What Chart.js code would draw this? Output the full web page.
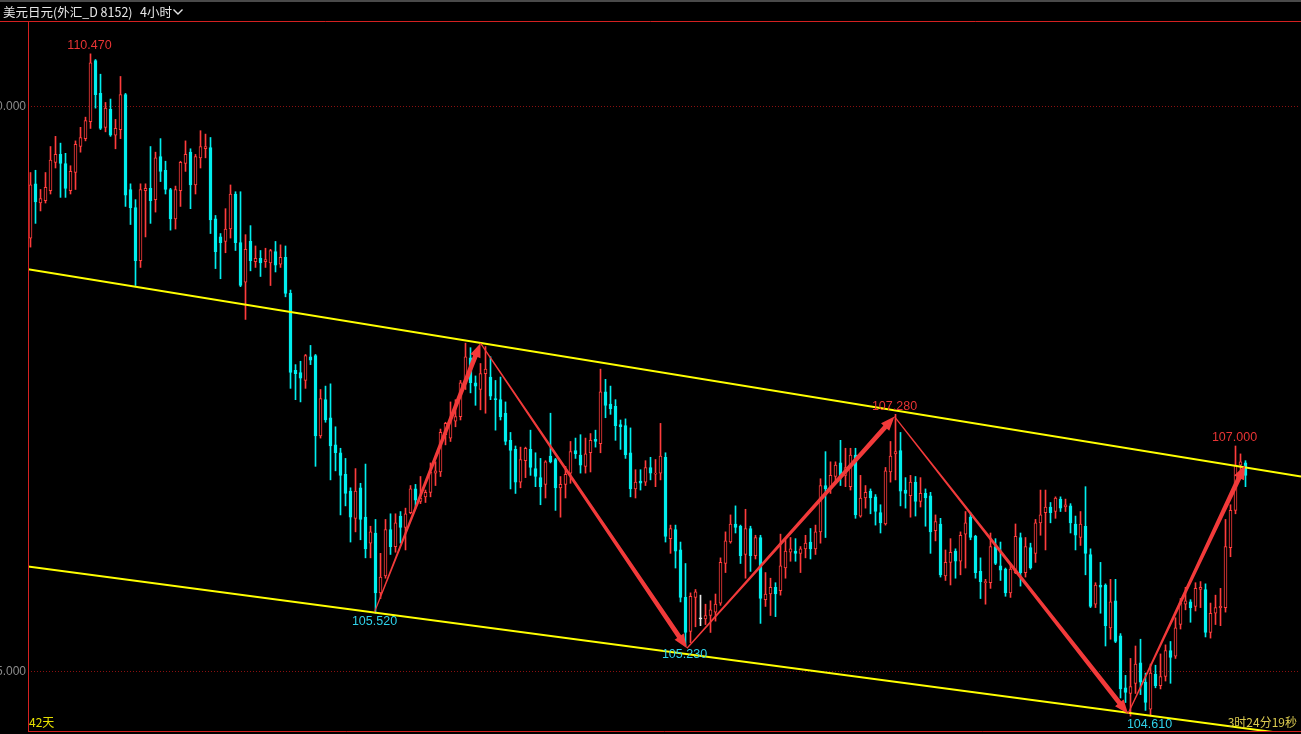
<!DOCTYPE html>
<html>
<head>
<meta charset="utf-8">
<title>美元日元 4小时</title>
<script src="https://cdn.jsdelivr.net/npm/chart.js@4.4.1/dist/chart.umd.min.js"></script>
<style>
    html, body { margin: 0; padding: 0; background: #000; overflow: hidden; }
    canvas { display: block; }
</style>
</head>
<body>
<canvas id="kline" width="1301" height="734"></canvas>
<script>
// --- Data (4h candles) ---
const openV = [
    108.84, 109.32, 109.15, 109.17, 109.26, 109.51, 109.58, 109.50, 109.26, 109.42,
    109.65, 109.72, 109.87, 110.41, 110.12, 109.82, 109.98, 109.75, 109.80, 110.11,
    109.27, 109.11, 108.64, 109.26, 109.28, 109.18, 109.56, 109.44, 109.27, 109.01,
    109.26, 109.50, 109.60, 109.31, 109.55, 109.63, 109.64, 109.01, 108.85, 108.81,
    108.92, 109.23, 108.80, 108.45, 108.81, 108.63, 108.66, 108.63, 108.62, 108.72,
    108.61, 108.67, 108.35, 107.67, 107.65, 107.58, 107.79, 107.80, 107.09, 107.41,
    107.25, 107.01, 106.94, 106.75, 106.60, 106.36, 106.63, 106.37, 106.14, 106.23,
    105.70, 105.85, 106.26, 106.11, 106.38, 106.28, 106.41, 106.62, 106.51, 106.55,
    106.59, 106.76, 106.77, 107.10, 107.07, 107.22, 107.26, 107.55, 107.78, 107.56,
    107.50, 107.64, 107.61, 107.42, 107.41, 107.29, 107.05, 106.97, 106.68, 106.87,
    106.97, 106.80, 106.72, 106.66, 106.91, 106.88, 106.63, 106.66, 106.76, 106.96,
    106.92, 106.82, 106.94, 107.06, 107.02, 107.48, 107.37, 107.35, 107.19, 107.18,
    106.94, 106.62, 106.69, 106.68, 106.81, 106.75, 106.76, 106.90, 106.18, 106.26,
    106.08, 105.66, 105.36, 105.66, 105.47, 105.47, 105.50, 105.53, 105.61, 105.96,
    106.15, 106.31, 106.29, 106.04, 106.27, 106.03, 106.19, 105.64, 105.69, 105.75,
    105.72, 105.92, 106.06, 106.07, 106.05, 106.09, 106.15, 106.09, 106.24, 106.65,
    106.62, 106.73, 106.85, 106.74, 106.64, 106.92, 106.38, 106.54, 106.60, 106.55,
    106.41, 106.31, 106.77, 106.93, 106.96, 106.61, 106.56, 106.68, 106.51, 106.58,
    106.56, 106.25, 106.31, 105.85, 105.97, 106.07, 105.98, 106.22, 106.37, 106.20,
    105.89, 105.79, 105.79, 106.11, 105.94, 105.91, 105.70, 105.88, 106.19, 105.88,
    106.10, 106.05, 106.32, 106.41, 106.46, 106.42, 106.53, 106.46, 106.47, 106.31,
    106.19, 106.29, 106.04, 105.60, 105.77, 105.77, 105.39, 105.63, 105.32, 104.86,
    104.81, 104.90, 105.08, 104.91, 104.67, 104.98, 104.88, 104.96, 105.19, 105.14,
    105.42, 105.60, 105.62, 105.58, 105.73, 105.73, 105.35, 105.52, 105.57, 105.57,
    106.10, 106.43, 106.83, 106.85
];
const highV = [
    109.42, 109.44, 109.27, 109.42, 109.65, 109.74, 109.68, 109.59, 109.48, 109.70,
    109.82, 109.91, 110.47, 110.42, 110.29, 110.04, 110.07, 109.89, 110.27, 110.12,
    109.32, 109.18, 109.32, 109.32, 109.65, 109.60, 109.72, 109.52, 109.28, 109.30,
    109.52, 109.70, 109.63, 109.58, 109.79, 109.76, 109.73, 109.04, 108.88, 109.10,
    109.31, 109.25, 109.25, 108.87, 108.95, 108.77, 108.73, 108.75, 108.74, 108.81,
    108.78, 108.77, 108.38, 107.72, 107.75, 107.81, 107.89, 107.81, 107.50, 107.53,
    107.55, 107.17, 106.98, 106.89, 106.63, 106.80, 106.67, 106.84, 106.29, 106.35,
    106.05, 106.35, 106.40, 106.40, 106.42, 106.45, 106.65, 106.66, 106.73, 106.61,
    106.85, 106.86, 107.15, 107.21, 107.39, 107.41, 107.58, 107.91, 107.87, 107.62,
    107.73, 107.88, 107.79, 107.58, 107.61, 107.39, 107.12, 107.00, 106.99, 106.99,
    107.14, 106.94, 106.89, 106.87, 107.29, 106.89, 106.73, 106.82, 107.04, 107.07,
    107.10, 107.07, 107.11, 107.14, 107.68, 107.59, 107.53, 107.41, 107.23, 107.24,
    107.16, 106.79, 106.79, 106.87, 106.90, 106.88, 107.20, 106.94, 106.30, 106.30,
    106.15, 105.96, 105.70, 105.73, 105.68, 105.60, 105.63, 105.69, 106.01, 106.24,
    106.39, 106.47, 106.30, 106.44, 106.29, 106.21, 106.21, 105.88, 105.83, 105.79,
    106.22, 106.17, 106.19, 106.18, 106.11, 106.21, 106.27, 106.30, 106.71, 106.95,
    106.86, 106.86, 107.05, 106.98, 106.98, 106.98, 106.74, 106.65, 106.62, 106.57,
    106.48, 106.81, 107.04, 107.28, 107.12, 106.72, 106.74, 106.73, 106.72, 106.62,
    106.59, 106.39, 106.36, 106.08, 106.18, 106.09, 106.24, 106.42, 106.41, 106.21,
    106.01, 105.82, 106.23, 106.18, 106.15, 105.92, 105.95, 106.31, 106.23, 106.19,
    106.14, 106.35, 106.61, 106.61, 106.50, 106.55, 106.55, 106.53, 106.49, 106.38,
    106.42, 106.64, 106.09, 105.79, 105.97, 105.78, 105.82, 105.82, 105.34, 104.97,
    105.12, 105.23, 105.29, 104.99, 105.07, 105.06, 105.16, 105.24, 105.27, 105.48,
    105.65, 105.75, 105.64, 105.79, 105.80, 105.78, 105.61, 105.68, 105.74, 106.35,
    106.48, 107.00, 106.93, 106.87
];
const lowV = [
    108.76, 108.97, 109.08, 109.15, 109.23, 109.46, 109.20, 109.20, 109.23, 109.27,
    109.60, 109.70, 109.81, 109.99, 109.80, 109.78, 109.74, 109.63, 109.72, 109.12,
    108.96, 108.42, 108.58, 108.85, 108.97, 109.07, 109.34, 109.23, 108.91, 108.92,
    109.12, 109.43, 109.10, 109.23, 109.46, 109.55, 108.88, 108.57, 108.48, 108.71,
    108.84, 108.73, 108.41, 108.12, 108.55, 108.58, 108.50, 108.58, 108.42, 108.54,
    108.58, 108.32, 107.51, 107.41, 107.39, 107.51, 107.72, 106.82, 107.07, 107.21,
    106.70, 106.78, 106.39, 106.47, 106.15, 106.24, 106.17, 106.01, 106.01, 105.52,
    105.65, 105.83, 106.04, 106.06, 106.14, 106.08, 106.40, 106.45, 106.49, 106.50,
    106.55, 106.65, 106.73, 107.01, 107.04, 107.17, 107.23, 107.50, 107.47, 107.36,
    107.32, 107.29, 107.41, 107.14, 107.23, 107.01, 106.62, 106.58, 106.63, 106.72,
    106.74, 106.64, 106.48, 106.54, 106.85, 106.43, 106.37, 106.54, 106.67, 106.89,
    106.76, 106.76, 106.77, 106.99, 106.94, 107.25, 107.28, 107.05, 106.97, 106.89,
    106.55, 106.54, 106.61, 106.65, 106.70, 106.64, 106.70, 106.15, 106.05, 105.92,
    105.62, 105.23, 105.26, 105.40, 105.41, 105.42, 105.35, 105.45, 105.59, 105.88,
    106.14, 106.23, 105.96, 105.83, 105.89, 106.00, 105.43, 105.58, 105.50, 105.49,
    105.68, 105.83, 105.98, 105.98, 105.88, 106.01, 106.00, 106.04, 106.14, 106.19,
    106.58, 106.68, 106.65, 106.64, 106.61, 106.36, 106.37, 106.45, 106.40, 106.30,
    106.23, 106.30, 106.68, 106.70, 106.47, 106.45, 106.37, 106.38, 106.46, 106.29,
    106.05, 106.16, 105.84, 105.81, 105.77, 105.83, 105.86, 105.92, 106.17, 105.83,
    105.65, 105.60, 105.74, 105.95, 105.81, 105.67, 105.66, 105.87, 105.76, 105.84,
    105.91, 105.97, 106.21, 106.08, 106.32, 106.36, 106.42, 106.42, 106.23, 106.08,
    106.12, 105.86, 105.57, 105.57, 105.52, 105.23, 105.29, 105.26, 104.77, 104.73,
    104.61, 104.81, 104.80, 104.66, 104.61, 104.86, 104.85, 104.92, 104.90, 105.12,
    105.38, 105.55, 105.44, 105.54, 105.57, 105.31, 105.30, 105.42, 105.41, 105.53,
    106.02, 106.40, 106.74, 106.64
];
const closeV = [
    109.31, 109.16, 109.19, 109.29, 109.53, 109.58, 109.50, 109.28, 109.43, 109.67,
    109.73, 109.88, 110.39, 110.11, 109.81, 109.99, 109.75, 109.81, 110.11, 109.22,
    109.11, 108.64, 109.27, 109.28, 109.17, 109.55, 109.43, 109.27, 109.01, 109.27,
    109.51, 109.58, 109.31, 109.56, 109.65, 109.65, 109.00, 108.72, 108.80, 108.92,
    109.23, 108.80, 108.42, 108.74, 108.64, 108.66, 108.62, 108.65, 108.73, 108.60,
    108.67, 108.35, 107.65, 107.64, 107.60, 107.80, 107.76, 107.09, 107.42, 107.23,
    107.00, 106.94, 106.74, 106.58, 106.37, 106.60, 106.35, 106.09, 106.24, 105.70,
    105.84, 106.26, 106.11, 106.32, 106.28, 106.40, 106.62, 106.52, 106.54, 106.59,
    106.77, 106.78, 107.12, 107.20, 107.23, 107.26, 107.56, 107.79, 107.56, 107.53,
    107.64, 107.68, 107.44, 107.41, 107.26, 107.04, 106.96, 106.68, 106.88, 106.98,
    106.81, 106.73, 106.64, 106.86, 106.86, 106.63, 106.66, 106.75, 106.95, 106.93,
    106.83, 106.93, 107.05, 107.04, 107.48, 107.36, 107.33, 107.18, 107.17, 106.92,
    106.62, 106.68, 106.67, 106.81, 106.76, 106.76, 106.91, 106.20, 106.27, 106.07,
    105.66, 105.35, 105.67, 105.71, 105.47, 105.50, 105.55, 105.60, 105.97, 106.16,
    106.31, 106.28, 106.03, 106.27, 106.03, 106.19, 105.65, 105.69, 105.75, 105.69,
    105.94, 106.07, 106.09, 106.05, 106.09, 106.14, 106.09, 106.24, 106.65, 106.62,
    106.74, 106.83, 106.73, 106.81, 106.92, 106.39, 106.54, 106.59, 106.54, 106.42,
    106.32, 106.78, 106.91, 106.95, 106.60, 106.58, 106.68, 106.51, 106.58, 106.54,
    106.24, 106.33, 105.86, 105.97, 106.06, 105.98, 106.21, 106.32, 106.19, 105.88,
    105.80, 105.80, 106.11, 105.96, 105.90, 105.70, 105.91, 106.20, 105.88, 106.11,
    105.92, 106.32, 106.39, 106.46, 106.41, 106.54, 106.45, 106.48, 106.32, 106.21,
    106.31, 106.05, 105.58, 105.77, 105.75, 105.41, 105.62, 105.27, 104.85, 104.82,
    104.87, 105.07, 104.91, 104.73, 104.99, 104.88, 104.96, 105.19, 105.13, 105.39,
    105.61, 105.63, 105.57, 105.74, 105.75, 105.35, 105.52, 105.57, 105.58, 106.11,
    106.43, 106.83, 106.86, 106.74
];

const SLOT_COUNT = 254;            // visible candle slots across the window
const yMin = 104.469, yMax = 110.752;
const gridLevels = [105, 110];
const gridLabels = ['105.000', '110.000'];

// marked extremes: candle index, text, which end
const markIdx = [12, 69, 131, 173, 224, 241];
const markText = ['110.470', '105.520', '105.230', '107.280', '104.610', '107.000'];
const markSide = ['high', 'low', 'low', 'high', 'low', 'high'];

// zig-zag arrows, [candle index, price]
const arrowFrom = [[68.8, 105.53], [90.0, 107.91], [131.3, 105.21], [172.8, 107.26], [219.5, 104.63]];
const arrowTo   = [[90.0, 107.91], [131.3, 105.21], [172.8, 107.26], [219.5, 104.63], [242.9, 106.83]];

// channel lines, [candle index, price]
const channelUpper = [[0, 108.56], [250, 106.76]];
const channelLower = [[0, 105.93], [250, 104.46]];

// --- Colours ---
const UP = '#ff3c3c';
const DOWN = '#00eeee';
const FLAT = '#e8e8e8';
const FRAME = '#d42020';
const ARROW = '#f23a3a';
const CHANNEL = '#ffff00';

function candleColor(i) {
    if (closeV[i] > openV[i]) return UP;
    if (closeV[i] < openV[i]) return DOWN;
    return FLAT;
}

const slotLabels = Array.from({ length: SLOT_COUNT }, (_, i) => String(i));
const bodyData = openV.map((o, i) => [o, closeV[i]]);
const wickData = lowV.map((l, i) => [l, highV[i]]);
const edgeColors = openV.map((_, i) => candleColor(i));
const bodyFill = openV.map((_, i) => closeV[i] > openV[i] ? '#000000' : candleColor(i));

function drawTaperArrow(ctx, x0, y0, x1, y1) {
    const dx = x1 - x0, dy = y1 - y0;
    const len = Math.hypot(dx, dy);
    const ux = dx / len, uy = dy / len;
    const nx = -uy, ny = ux;
    const headLen = 14, headHalf = 5.5;
    const w0 = 0.6, w1 = 2.4;
    const bx = x1 - ux * headLen, by = y1 - uy * headLen;

    ctx.beginPath();
    ctx.moveTo(x0 + nx * w0, y0 + ny * w0);
    ctx.lineTo(bx + nx * w1, by + ny * w1);
    ctx.lineTo(bx + nx * headHalf, by + ny * headHalf);
    ctx.lineTo(x1, y1);
    ctx.lineTo(bx - nx * headHalf, by - ny * headHalf);
    ctx.lineTo(bx - nx * w1, by - ny * w1);
    ctx.lineTo(x0 - nx * w0, y0 - ny * w0);
    ctx.closePath();
    ctx.fill();
}

const decorPlugin = {
    id: 'decor',
    beforeDraw(chart) {
        const ctx = chart.ctx;
        ctx.save();
        ctx.fillStyle = '#000';
        ctx.fillRect(0, 0, chart.width, chart.height);
        ctx.fillStyle = '#4a4a4a';
        ctx.fillRect(0, 0, chart.width, 2);
        ctx.restore();
    },
    afterDatasetsDraw(chart) {
        const ctx = chart.ctx;
        const xs = chart.scales.x, ys = chart.scales.y;
        const area = chart.chartArea;

        // channel lines, extended to both edges
        ctx.save();
        ctx.beginPath();
        ctx.rect(area.left, area.top, chart.width - area.left, area.bottom - area.top);
        ctx.clip();
        ctx.strokeStyle = CHANNEL;
        ctx.lineWidth = 2;
        [channelUpper, channelLower].forEach(line => {
            const ax = xs.getPixelForValue(line[0][0]), ay = ys.getPixelForValue(line[0][1]);
            const bx = xs.getPixelForValue(line[1][0]), by = ys.getPixelForValue(line[1][1]);
            const k = (by - ay) / (bx - ax);
            const xl = area.left, xr = chart.width;
            ctx.beginPath();
            ctx.moveTo(xl, ay + (xl - ax) * k);
            ctx.lineTo(xr, ay + (xr - ax) * k);
            ctx.stroke();
        });
        ctx.restore();

        // arrows
        ctx.save();
        ctx.fillStyle = ARROW;
        arrowFrom.forEach((p, i) => {
            const q = arrowTo[i];
            drawTaperArrow(ctx,
                xs.getPixelForValue(p[0]), ys.getPixelForValue(p[1]),
                xs.getPixelForValue(q[0]), ys.getPixelForValue(q[1]));
        });
        ctx.restore();

        // extreme labels
        ctx.save();
        ctx.font = '12.5px "Liberation Sans", Arial, sans-serif';
        ctx.textAlign = 'center';
        markIdx.forEach((idx, i) => {
            const x = xs.getPixelForValue(idx);
            if (markSide[i] === 'high') {
                ctx.fillStyle = '#e83434';
                ctx.textBaseline = 'bottom';
                ctx.fillText(markText[i], x - 1, ys.getPixelForValue(highV[idx]) - 2);
            } else {
                ctx.fillStyle = '#2fd2ea';
                ctx.textBaseline = 'top';
                ctx.fillText(markText[i], x - 1, ys.getPixelForValue(lowV[idx]) + 2);
            }
        });
        ctx.restore();
    },
    afterDraw(chart) {
        const ctx = chart.ctx;
        const ys = chart.scales.y;
        const area = chart.chartArea;
        ctx.save();

        // frame
        ctx.strokeStyle = FRAME;
        ctx.lineWidth = 1;
        ctx.beginPath();
        ctx.moveTo(0, 21.5);
        ctx.lineTo(chart.width, 21.5);
        ctx.moveTo(28.5, 22);
        ctx.lineTo(28.5, area.bottom);
        ctx.moveTo(28, area.bottom - 0.5);
        ctx.lineTo(chart.width, area.bottom - 0.5);
        ctx.stroke();

        // title bar
        ctx.fillStyle = '#e6e6e6';
        ctx.font = '12.5px "Noto Sans CJK SC", sans-serif';
        ctx.textAlign = 'left';
        ctx.textBaseline = 'middle';
        ctx.fillText('美元日元(外汇_D 8152)', 3, 12);
        ctx.fillText('4小时', 140, 12);
        ctx.strokeStyle = '#e6e6e6';
        ctx.lineWidth = 1.4;
        ctx.beginPath();
        ctx.moveTo(173.5, 9.5);
        ctx.lineTo(178, 14);
        ctx.lineTo(182.5, 9.5);
        ctx.stroke();

        // price labels, partly cut off at the left edge
        ctx.fillStyle = '#8c8c8c';
        ctx.font = '12px "Liberation Sans", Arial, sans-serif';
        ctx.textAlign = 'right';
        gridLevels.forEach((v, i) => {
            ctx.fillText(gridLabels[i], 26, ys.getPixelForValue(v));
        });

        // bottom texts
        ctx.font = '12px "Noto Sans CJK SC", sans-serif';
        ctx.textAlign = 'left';
        ctx.fillStyle = '#e6e000';
        ctx.fillText('42天', 29, 722);
        ctx.textAlign = 'right';
        ctx.fillStyle = '#dccb50';
        ctx.fillText('3时24分19秒', 1297, 722);

        ctx.restore();
    }
};

new Chart(document.getElementById('kline'), {
    type: 'bar',
    data: {
        labels: slotLabels,
        datasets: [
            {
                label: 'body',
                data: bodyData,
                backgroundColor: bodyFill,
                borderColor: edgeColors,
                borderWidth: 1,
                borderSkipped: false,
                barThickness: 3,
                minBarLength: 1,
                grouped: false
            },
            {
                label: 'wick',
                data: wickData,
                backgroundColor: edgeColors,
                borderWidth: 0,
                barThickness: 1,
                grouped: false
            }
        ]
    },
    options: {
        responsive: false,
        animation: false,
        events: [],
        devicePixelRatio: 1,
        layout: { padding: { left: 28, right: 3, top: 22, bottom: 2 } },
        plugins: {
            legend: { display: false },
            tooltip: { enabled: false }
        },
        scales: {
            x: { display: false },
            y: {
                position: 'left',
                min: yMin,
                max: yMax,
                afterBuildTicks: scale => {
                    scale.ticks = gridLevels.map(v => ({ value: v }));
                },
                afterFit: scale => { scale.width = 0; },
                ticks: { display: false },
                grid: { color: '#8a1010', lineWidth: 1, drawTicks: false },
                border: { display: false, dash: [1, 2] }
            }
        }
    },
    plugins: [decorPlugin]
});
</script>
</body>
</html>
